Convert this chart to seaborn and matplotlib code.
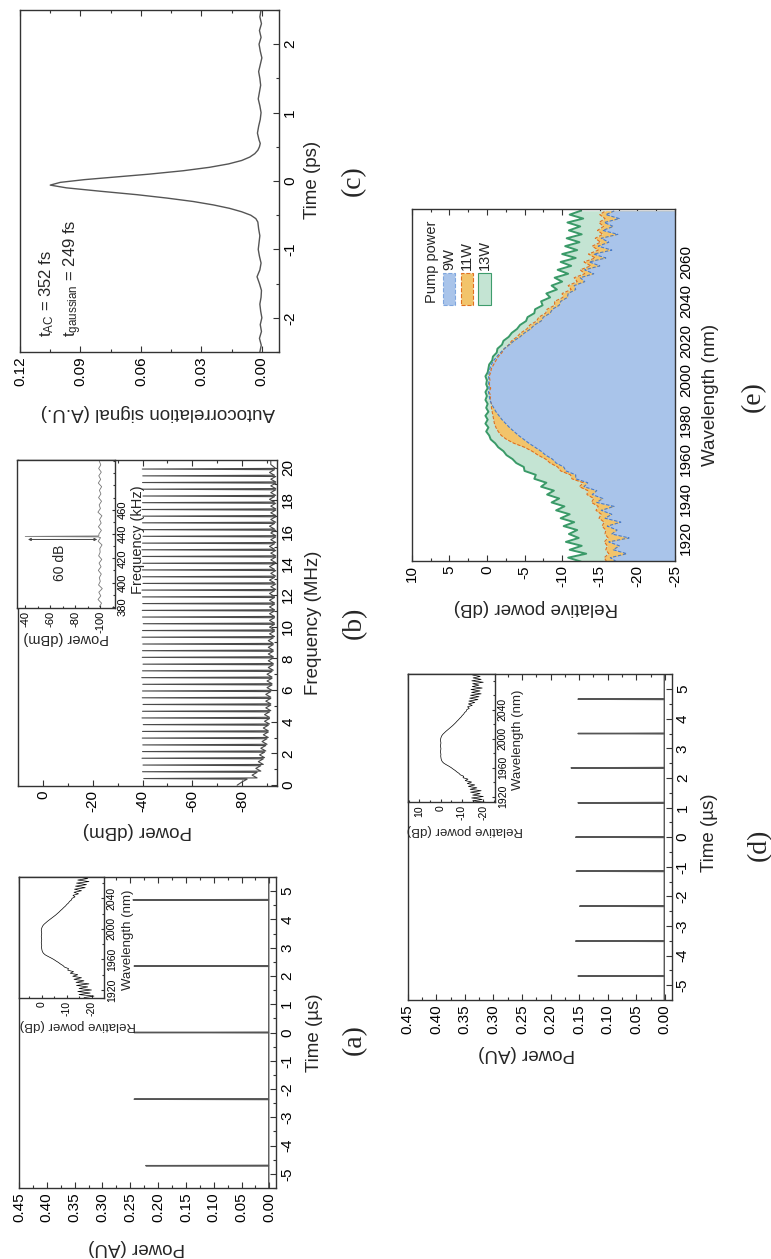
import numpy as np
import matplotlib
matplotlib.use("Agg")
import matplotlib.pyplot as plt
import seaborn as sns
from matplotlib.ticker import MultipleLocator, FixedLocator, FormatStrFormatter
from matplotlib.patches import Rectangle

# ------------------------------------------------------------------ data
# (a) pulse train at fundamental repetition rate
pulse_a_time = [-4.71, -2.36, 0.00, 2.35, 4.69]          # us
pulse_a_power = [0.222, 0.243, 0.243, 0.243, 0.245]      # AU
floor_a = 0.001

# (d) pulse train, harmonic operation
pulse_d_time = [-4.69, -3.51, -2.33, -1.15, 0.00, 1.16, 2.34, 3.50, 4.66]
pulse_d_power = [0.152, 0.156, 0.149, 0.155, 0.156, 0.152, 0.164, 0.152, 0.152]
floor_d = 0.001

# inset spectra of (a) and (d): wavelength grid 1910..2088 nm, 2 nm step
inset_wl = np.arange(1910, 2090, 2)
inset_spec_db = [
    -17.0, -21.0, -15.0, -19.5, -14.5, -20.0, -15.0, -18.5, -14.0, -19.0,
    -13.8, -17.0, -13.0, -16.0, -12.5, -14.5, -11.5, -12.8, -10.5, -10.8,
    -9.2, -8.6, -7.6, -6.8, -5.8, -4.9, -3.8, -2.6, -1.5, -0.8,
    -0.4, -0.2, -0.1, 0.0, -0.1, 0.0, 0.1, 0.0, -0.1, 0.0,
    0.1, 0.0, -0.1, 0.0, 0.1, 0.0, -0.2, -0.5, -1.0, -1.7,
    -2.4, -3.2, -4.0, -4.8, -5.6, -6.3, -7.0, -7.6, -8.3, -8.9,
    -9.6, -10.1, -10.8, -11.2, -12.0, -12.2, -13.4, -12.6, -14.8, -13.0,
    -16.0, -13.2, -17.5, -13.6, -18.0, -14.0, -19.0, -14.5, -18.5, -14.2,
    -19.5, -14.8, -18.0, -15.0, -20.0, -14.6, -19.0, -15.2, -18.5, -15.0,
]
inset_wl_ticks = [1920, 1960, 2000, 2040]

# (b) RF spectrum: comb lines and noise floor between them
rf_line_freq = [0.42, 0.85, 1.27, 1.70, 2.12, 2.54, 2.97, 3.39, 3.82, 4.24,
                4.66, 5.09, 5.51, 5.94, 6.36, 6.78, 7.21, 7.63, 8.06, 8.48,
                8.90, 9.33, 9.75, 10.18, 10.60, 11.02, 11.45, 11.87, 12.30, 12.72,
                13.14, 13.57, 13.99, 14.42, 14.84, 15.26, 15.69, 16.11, 16.54, 16.96,
                17.38, 17.81, 18.23, 18.66, 19.08, 19.50, 19.93]
rf_line_db = [-40.5, -40.0, -40.2, -39.8, -40.0, -40.1, -39.9, -40.0, -40.3, -39.8,
              -40.0, -40.2, -39.9, -40.0, -40.1, -39.7, -40.0, -40.2, -39.9, -40.0,
              -40.1, -39.8, -40.0, -40.3, -40.0, -39.9, -40.1, -40.0, -39.8, -40.2,
              -40.0, -39.9, -40.1, -40.0, -39.8, -40.0, -40.2, -39.9, -40.0, -40.1,
              -39.8, -40.0, -40.2, -39.9, -40.0, -40.1, -39.9]
rf_floor_db = [-80, -84, -85.5, -86.5, -87, -87.5, -88, -88.5, -88.5, -89,
               -89, -89.5, -89.5, -89.5, -90, -90, -90, -90.5, -90.5, -90.5,
               -90.5, -90.5, -91, -91, -91, -91, -91, -91, -91, -91.5,
               -91, -91.5, -91, -91.5, -91.5, -91, -91.5, -91.5, -91, -91.5,
               -91.5, -91.5, -91, -91.5, -91.5, -91.5, -91, -91.5]

# (b) inset: fundamental RF peak
rfi_freq = np.arange(380, 503, 3)  # kHz
rfi_floor_db = [-99.5, -101.2, -98.4, -100.6, -99.0, -101.8, -98.8, -100.2, -99.4, -101.0,
                -98.6, -100.8, -99.2, -101.4, -98.9, -100.1, -99.8, -101.6, -98.5, -100.4,
                -99.1, -101.1, -98.7, -100.9, -99.6, -101.5, -98.3, -100.3, -99.3, -101.2,
                -98.8, -100.7, -99.5, -101.3, -98.6, -100.5, -99.0, -101.0, -98.9, -100.6,
                -99.4]
rfi_peak_freq = 438.0
rfi_peak_db = -40.0

# (c) autocorrelation trace
ac_time = [-2.50, -2.40, -2.30, -2.20, -2.10, -2.00, -1.90, -1.80, -1.70, -1.60,
           -1.50, -1.40, -1.30, -1.20, -1.10, -1.00, -0.90, -0.80, -0.70, -0.60,
           -0.55, -0.50, -0.45, -0.40, -0.35, -0.30, -0.25, -0.20, -0.15, -0.10,
           -0.06, -0.02, 0.02, 0.06, 0.10, 0.15, 0.20, 0.25, 0.30, 0.35,
           0.40, 0.45, 0.50, 0.55, 0.60, 0.70, 0.80, 0.90, 1.00, 1.10,
           1.20, 1.30, 1.40, 1.50, 1.60, 1.70, 1.80, 1.90, 2.00, 2.10,
           2.20, 2.30, 2.40, 2.50]
ac_signal = [0.0010, 0.0003, 0.0012, 0.0002, 0.0008, 0.0000, 0.0006, 0.0010, 0.0004, 0.0002,
             0.0012, 0.0024, 0.0010, 0.0004, 0.0012, 0.0018, 0.0014, 0.0010, 0.0016, 0.0020,
             0.0030, 0.0055, 0.0100, 0.0160, 0.0240, 0.0340, 0.0470, 0.0620, 0.0800, 0.0970,
             0.1050, 0.1000, 0.0880, 0.0720, 0.0560, 0.0390, 0.0260, 0.0165, 0.0100, 0.0060,
             0.0035, 0.0020, 0.0012, 0.0008, 0.0014, 0.0022, 0.0016, 0.0008, 0.0004, 0.0010,
             0.0018, 0.0012, 0.0006, 0.0010, 0.0016, 0.0008, 0.0000, 0.0008, 0.0014, 0.0004,
             0.0012, 0.0002, 0.0010, 0.0004]

# (e) spectra for three pump powers, wavelength grid 1908..2086 nm, 2 nm step
spec_wl = np.arange(1908, 2088, 2)
spec_13w = [
    -12.5, -10.8, -13.2, -11.0, -12.6, -10.5, -12.2, -10.9, -12.0, -10.2,
    -11.6, -9.8, -11.0, -9.2, -10.3, -8.6, -9.6, -8.0, -8.9, -7.2,
    -7.9, -6.3, -6.5, -5.0, -4.9, -3.9, -3.4, -2.6, -2.2, -1.5,
    -1.1, -0.5, -0.3, 0.1, -0.2, 0.2, -0.1, 0.2, -0.2, 0.1,
    -0.1, 0.2, 0.0, 0.2, -0.1, 0.1, 0.0, 0.2, -0.1, -0.2,
    -0.3, -0.7, -0.8, -1.3, -1.4, -2.0, -2.2, -2.9, -3.3, -4.0,
    -4.4, -5.2, -5.4, -6.3, -6.4, -7.4, -7.2, -8.4, -7.9, -9.3,
    -8.6, -10.0, -9.0, -10.8, -9.4, -11.2, -9.8, -11.8, -10.0, -12.0,
    -10.4, -12.3, -10.6, -12.6, -10.9, -12.4, -10.7, -12.8, -11.0, -12.5,
]
spec_11w = [
    -15.9, -15.6, -16.2, -15.8, -16.0, -15.6, -16.1, -15.7, -15.8, -15.3,
    -15.6, -14.9, -15.2, -14.5, -14.8, -13.9, -14.2, -13.3, -13.4, -12.3,
    -12.8, -11.3, -11.1, -9.8, -9.4, -8.4, -7.8, -6.8, -6.0, -5.0,
    -3.6, -2.6, -1.9, -1.5, -1.2, -1.0, -0.9, -0.8, -0.7, -0.6,
    -0.6, -0.4, -0.5, -0.3, -0.5, -0.3, -0.4, -0.3, -0.5, -0.6,
    -0.9, -1.2, -1.5, -2.0, -2.3, -2.9, -3.3, -4.0, -4.5, -5.3,
    -5.7, -6.6, -6.9, -7.8, -8.0, -9.0, -9.0, -10.1, -10.0, -11.2,
    -10.8, -12.0, -11.6, -13.0, -12.4, -13.8, -12.9, -14.4, -13.5, -14.8,
    -14.0, -15.1, -14.4, -15.4, -14.7, -15.5, -14.9, -15.7, -15.0, -15.8,
]
spec_9w = [
    -17.2, -16.4, -18.6, -16.8, -17.6, -16.2, -18.9, -16.6, -17.3, -16.0,
    -17.8, -15.7, -16.6, -15.2, -16.9, -14.6, -15.4, -14.0, -14.6, -12.9,
    -13.4, -11.8, -11.8, -10.5, -10.2, -9.2, -8.7, -7.8, -7.2, -6.4,
    -5.6, -4.9, -4.2, -3.6, -3.0, -2.5, -2.0, -1.6, -1.2, -0.9,
    -0.6, -0.4, -0.3, -0.2, -0.3, -0.2, -0.3, -0.2, -0.3, -0.4,
    -0.6, -0.9, -1.3, -1.8, -2.3, -3.0, -3.6, -4.4, -5.0, -5.8,
    -6.3, -7.2, -7.5, -8.4, -8.7, -9.6, -9.8, -10.7, -10.8, -11.8,
    -11.6, -13.0, -12.4, -14.2, -13.0, -15.0, -13.6, -15.8, -14.2, -16.6,
    -14.8, -16.2, -15.2, -17.4, -15.4, -16.8, -15.6, -17.6, -15.8, -17.0,
]
spec_wl_ticks = [1920, 1940, 1960, 1980, 2000, 2020, 2040, 2060]
legend_labels = ["9W", "11W", "13W"]

# ------------------------------------------------------------------ style
sns.set_theme(style="ticks")
plt.rcParams["font.family"] = ["Liberation Sans", "DejaVu Sans"]
plt.rcParams["mathtext.fontset"] = "custom"
plt.rcParams["mathtext.rm"] = "Liberation Sans"
plt.rcParams["mathtext.it"] = "Liberation Sans"
plt.rcParams["mathtext.default"] = "regular"
plt.rcParams["axes.unicode_minus"] = False

W, H = 771, 1259
fig = plt.figure(figsize=(W / 100, H / 100), dpi=100)
fig.patch.set_facecolor("white")
EDGE = "#333333"


def rect(x0, y0, x1, y1):
    return [x0 / W, 1 - y1 / H, (x1 - x0) / W, (y1 - y0) / H]


def setup(ax, xlim, ylim, xmaj, xmin, ymaj, ymin, xfmt, yfmt, fs, top=True, length=4.0):
    """Axes drawn rotated by 90 deg: horizontal = original y (inverted), vertical = original x."""
    ax.set_xlim(*xlim)
    ax.set_ylim(*ylim)
    ax.xaxis.set_major_locator(xmaj)
    ax.xaxis.set_minor_locator(xmin)
    ax.yaxis.set_major_locator(ymaj)
    ax.yaxis.set_minor_locator(ymin)
    ax.xaxis.set_major_formatter(FormatStrFormatter(xfmt))
    ax.yaxis.set_major_formatter(FormatStrFormatter(yfmt))
    ax.yaxis.tick_right()
    ax.tick_params(which="both", direction="in", bottom=True, top=top, left=False, right=True,
                   labelbottom=True, labeltop=False, labelleft=False, labelright=True,
                   color=EDGE, labelcolor="black", labelsize=fs, width=0.8)
    ax.tick_params(which="major", length=length)
    ax.tick_params(which="minor", length=length * 0.55)
    ax.tick_params(axis="x", labelrotation=90, pad=3)
    ax.tick_params(axis="y", labelrotation=90, pad=3)
    plt.setp(ax.get_yticklabels(), va="center", ha="left")
    for s in ax.spines.values():
        s.set_color(EDGE)
        s.set_linewidth(1.0)
    ax.grid(False)
    ax.set_facecolor("white")


def labels(ax, xl, xl_pos, yl, yl_pos, fs):
    ax.set_xlabel(xl, fontsize=fs, rotation=180)
    ax.xaxis.label.set_va("center")
    ax.xaxis.label.set_ha("center")
    ax.xaxis.set_label_coords(*xl_pos)
    ax.yaxis.set_label_position("right")
    ax.set_ylabel(yl, fontsize=fs, rotation=90)
    ax.yaxis.label.set_va("center")
    ax.yaxis.label.set_ha("center")
    ax.yaxis.set_label_coords(*yl_pos)


def panel_letter(x, y, s):
    fig.text(x / W, 1 - y / H, s, rotation=90, ha="center", va="center",
             fontsize=20, family=["Liberation Serif", "DejaVu Serif"])


def pulse_trace(times, heights, floor):
    t = [-5.5]
    p = [floor]
    for tc, h in zip(times, heights):
        t += [tc - 0.012, tc, tc + 0.012]
        p += [floor, h, floor]
    t.append(5.5)
    p.append(floor)
    return np.array(p), np.array(t)


def inset_spectrum(box, xlim, ylim, xticks, xl_pos, yl_pos):
    ax = fig.add_axes(rect(*box))
    sns.lineplot(x=inset_spec_db, y=inset_wl, sort=False, estimator=None, ax=ax,
                 color="black", lw=0.5)
    setup(ax, xlim, ylim, FixedLocator(xticks), MultipleLocator(5),
          FixedLocator(inset_wl_ticks), MultipleLocator(20), "%d", "%d", 7.5,
          top=False, length=2.5)
    ax.tick_params(axis="both", pad=2)
    labels(ax, "Relative power (dB)", xl_pos, "Wavelength (nm)", yl_pos, 9.5)
    return ax


# ------------------------------------------------------------------ (a)
ax_a = fig.add_axes(rect(19, 877, 276, 1188))
pa, ta = pulse_trace(pulse_a_time, pulse_a_power, floor_a)
sns.lineplot(x=pa, y=ta, sort=False, estimator=None, ax=ax_a, color="#555555", lw=1.0)
setup(ax_a, (0.45, -0.012), (-5.5, 5.5), MultipleLocator(0.05), MultipleLocator(0.025),
      MultipleLocator(1), MultipleLocator(0.5), "%.2f", "%d", 11)
labels(ax_a, "Power (AU)", (0.459, -0.19), "Time (\u00b5s)", (1.148, 0.5), 13.5)
inset_spectrum((19, 877, 104, 998), (9, -25), (1909.5, 2068), [0, -10, -20],
               (0.694, -0.223), (1.282, 0.479))
panel_letter(354, 1040, "(a)")

# ------------------------------------------------------------------ (b)
ax_b = fig.add_axes(rect(18, 460, 277, 786))
f_pts = [0.0]
p_pts = [rf_floor_db[0] + 2]
prev = 0.0
for i, (fc, pk) in enumerate(zip(rf_line_freq, rf_line_db)):
    f_pts += [(prev + fc) / 2, fc - 0.04, fc, fc + 0.04]
    p_pts += [rf_floor_db[i], rf_floor_db[i] - 2.0, pk, rf_floor_db[i + 1] - 2.0]
    prev = fc
f_pts += [(prev + 20.5) / 2, 20.5]
p_pts += [rf_floor_db[-1], rf_floor_db[-1]]
sns.lineplot(x=p_pts, y=f_pts, sort=False, estimator=None, ax=ax_b, color="#4a4a4a", lw=0.8)
setup(ax_b, (10, -94), (-0.05, 20.5), MultipleLocator(20), MultipleLocator(10),
      MultipleLocator(2), MultipleLocator(1), "%d", "%d", 11)
labels(ax_b, "Power (dBm)", (0.459, -0.135), "Frequency (MHz)", (1.139, 0.5), 13.5)

ax_bi = fig.add_axes(rect(17, 460, 115, 608))
fi = list(rfi_freq) + [rfi_peak_freq - 0.4, rfi_peak_freq, rfi_peak_freq + 0.4]
pi = list(rfi_floor_db) + [-98.5, rfi_peak_db, -99.0]
order = np.argsort(fi)
sns.lineplot(x=np.array(pi)[order], y=np.array(fi)[order], sort=False, estimator=None,
             ax=ax_bi, color="#777777", lw=0.6)
ax_bi.annotate("", xy=(rfi_peak_db, rfi_peak_freq - 2.5), xytext=(-100, rfi_peak_freq - 2.5),
               arrowprops=dict(arrowstyle="<|-|>", lw=0.7, color="#444444", mutation_scale=4))
ax_bi.text(-68, 416, "60 dB", rotation=90, ha="center", va="center", fontsize=10)
setup(ax_bi, (-33.4, -112), (379, 501), MultipleLocator(20), MultipleLocator(10),
      FixedLocator([380, 400, 420, 440, 460]), MultipleLocator(10), "%d", "%d", 8,
      top=False, length=2.5)
ax_bi.tick_params(axis="both", pad=2)
labels(ax_bi, "Power (dBm)", (0.505, -0.20), "Frequency (kHz)", (1.235, 0.459), 10.5)
panel_letter(354, 623, "(b)")

# ------------------------------------------------------------------ (c)
ax_c = fig.add_axes(rect(20, 10, 279, 352))
sns.lineplot(x=ac_signal, y=ac_time, sort=False, estimator=None, ax=ax_c, color="#555555", lw=1.0)
setup(ax_c, (0.12, -0.0085), (-2.5, 2.5), MultipleLocator(0.03), MultipleLocator(0.015),
      MultipleLocator(1), MultipleLocator(0.5), "%.2f", "%d", 11)
labels(ax_c, "Autocorrelation signal (A.U.)", (0.533, -0.178), "Time (ps)", (1.131, 0.503), 13.5)
ax_c.text(0.1066, -2.28, r"t$_{AC}$ = 352 fs", rotation=90, ha="center", va="bottom", fontsize=12)
ax_c.text(0.0941, -2.28, r"t$_{gaussian}$ = 249 fs", rotation=90, ha="center", va="bottom", fontsize=12)
panel_letter(353, 181, "(c)")

# ------------------------------------------------------------------ (d)
ax_d = fig.add_axes(rect(407.7, 674.3, 671.7, 1000))
pd_, td = pulse_trace(pulse_d_time, pulse_d_power, floor_d)
sns.lineplot(x=pd_, y=td, sort=False, estimator=None, ax=ax_d, color="#555555", lw=1.0)
setup(ax_d, (0.45, -0.012), (-5.5, 5.5), MultipleLocator(0.05), MultipleLocator(0.025),
      MultipleLocator(1), MultipleLocator(0.5), "%.2f", "%d", 11)
labels(ax_d, "Power (AU)", (0.452, -0.163), "Time (\u00b5s)", (1.145, 0.513), 13.5)
inset_spectrum((407.7, 674.3, 495, 802.3), (15.5, -25.5), (1912, 2089), [10, 0, -10, -20],
               (0.656, -0.216), (1.266, 0.487))
panel_letter(759, 845, "(d)")

# ------------------------------------------------------------------ (e)
ax_e = fig.add_axes(rect(411.7, 209.3, 675, 561))
fills = [
    (spec_13w, "#C4E4D3", "#3A9A68", "-", 1.4),
    (spec_11w, "#F2C46B", "#E07020", (0, (3, 1.5)), 0.8),
    (spec_9w, "#A9C4EA", "#4A7CC9", (0, (3, 1.5)), 0.8),
]
for vals, fc, ec, ls, lw in fills:
    ax_e.fill_betweenx(spec_wl, -25, vals, color=fc, lw=0)
    sns.lineplot(x=vals, y=spec_wl, sort=False, estimator=None, ax=ax_e, color=ec, lw=lw,
                 linestyle=ls)
setup(ax_e, (10, -25), (1908.3, 2086.7), MultipleLocator(5), MultipleLocator(2.5),
      FixedLocator(spec_wl_ticks), MultipleLocator(10), "%d", "%d", 11)
labels(ax_e, "Relative power (dB)", (0.472, -0.131), "Wavelength (nm)", (1.133, 0.472), 13.5)

# legend drawn in rotated form
ax_e.text(0.076, 0.734, "Pump power", rotation=90, ha="center", va="bottom",
          fontsize=10.5, transform=ax_e.transAxes)
leg_boxes = [(0.119, "#A9C4EA", "#7FA6DE", "--"),
             (0.186, "#F2C46B", "#E07020", "--"),
             (0.253, "#C4E4D3", "#3E9C6C", "-")]
for (fx, fc, ec, ls), lab in zip(leg_boxes, legend_labels):
    ax_e.add_patch(Rectangle((fx, 0.728), 0.047, 0.091, transform=ax_e.transAxes,
                             facecolor=fc, edgecolor=ec, lw=0.8, linestyle=ls, zorder=5))
    ax_e.text(fx + 0.0235, 0.827, lab, rotation=90, ha="center", va="bottom",
              fontsize=10.5, transform=ax_e.transAxes)
panel_letter(753, 397, "(e)")

fig.savefig("out.png", dpi=100, facecolor="white")
